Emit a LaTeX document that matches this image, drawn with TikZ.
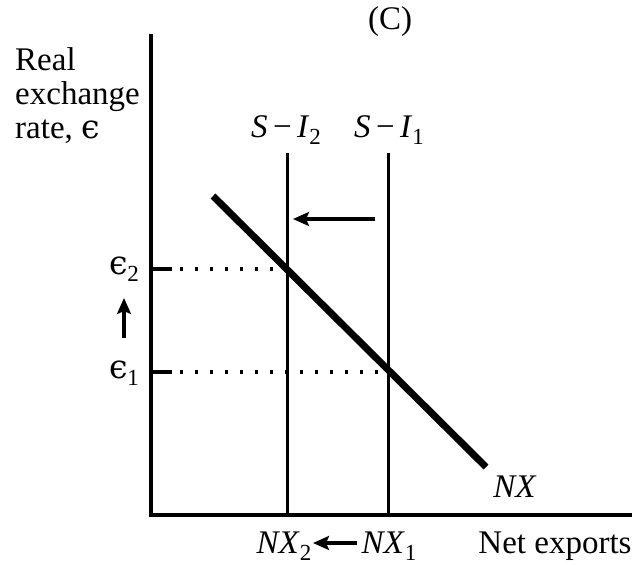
\documentclass[tikz,border=0pt]{standalone}
\usepackage{fontspec}
\setmainfont{Liberation Serif}
\newfontfamily\dvs{DejaVu Serif}
\usetikzlibrary{arrows.meta}
\newcommand{\eps}{{\dvs ϵ}}
\newcommand{\sbs}[1]{\raisebox{-7pt}{\fontsize{23}{23}\selectfont #1}}
\begin{document}
\begin{tikzpicture}[x=1pt,y=-1pt,
  txt/.style={inner sep=0pt, font=\fontsize{33}{34}\selectfont},
  axis/.style={line width=4pt},
  vline/.style={line width=3pt},
  curve/.style={line width=7pt},
  dots/.style={line width=3.4pt, dash pattern=on 3.4pt off 11.6pt},
  tickmark/.style={line width=3.4pt},
  movearrow/.style={line width=3.2pt, -{Stealth[length=16pt,width=14pt,inset=3pt]}}]
\useasboundingbox (0,0) rectangle (636,564);
% axes
\coordinate (O) at (151,515);
\coordinate (ytop) at (151,34);
\coordinate (xend) at (632,515);
\draw[axis] (ytop) -- (O) -- (xend);
% vertical S-I lines
\coordinate (v2t) at (287,153); \coordinate (v2b) at (287,515);
\coordinate (v1t) at (388,153); \coordinate (v1b) at (388,515);
\draw[vline] (v2t) -- (v2b);
\draw[vline] (v1t) -- (v1b);
% NX line
\coordinate (nxa) at (213,196); \coordinate (nxb) at (486,467);
\draw[curve] (nxa) -- (nxb);
% dotted levels
\coordinate (e2a) at (151,269); \coordinate (e2t) at (172,269); \coordinate (e2d) at (180,269); \coordinate (e2b) at (287,269);
\coordinate (e1a) at (151,372); \coordinate (e1t) at (172,372); \coordinate (e1d) at (180,372); \coordinate (e1b) at (388,372);
\draw[tickmark] (e2a) -- (e2t);
\draw[tickmark] (e1a) -- (e1t);
\draw[dots] (e2d) -- (e2b);
\draw[dots] (e1d) -- (e1b);
% labels
\node[txt] (C) at (390,22) {(C)};
\node[txt, anchor=north west, align=left] (ylab) at (15,47) {Real\\exchange\\rate, \eps};
\node[txt, anchor=base] (si2) at (286,138) {\textit{S}\,−\,\textit{I}\sbs{2}};
\node[txt, anchor=base] (si1) at (389,138) {\textit{S}\,−\,\textit{I}\sbs{1}};
\node[txt, anchor=base] (eps2) at (124,274) {\eps\sbs{2}};
\node[txt, anchor=base] (eps1) at (124,378) {\eps\sbs{1}};
\node[txt, anchor=base] (nx) at (515,497) {\textit{NX}};
\node[txt, anchor=base] (nx2) at (284,553) {\textit{NX}\sbs{2}};
\node[txt, anchor=base] (nx1) at (389,553) {\textit{NX}\sbs{1}};
\node[txt, anchor=base] (netx) at (555,553) {Net exports};
% shift arrows
\coordinate (ha) at (375,219); \coordinate (hb) at (293,219);
\draw[movearrow] (ha) -- (hb);
\coordinate (ua) at (124,338); \coordinate (ub) at (124,298);
\draw[movearrow] (ua) -- (ub);
\coordinate (ba) at (357,543); \coordinate (bb) at (313,543);
\draw[movearrow] (ba) -- (bb);
\end{tikzpicture}
\end{document}
